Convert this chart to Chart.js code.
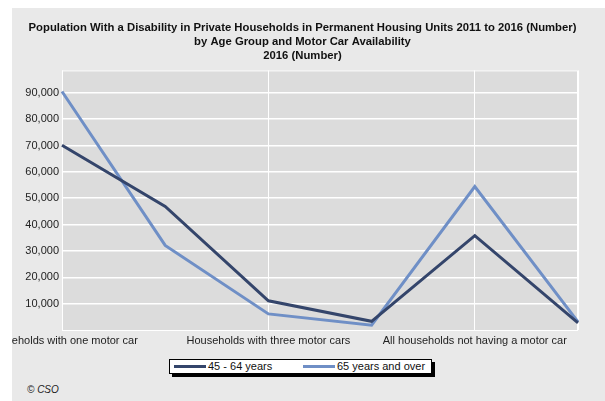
<!DOCTYPE html>
<html>
<head>
<meta charset="utf-8">
<script src="https://cdn.jsdelivr.net/npm/chart.js@4.4.0/dist/chart.umd.min.js"></script>
<style>
    body { margin: 0; background: #ffffff; font-family: "Liberation Sans", Arial, sans-serif; }
    #panel { position: absolute; left: 12px; top: 8px; width: 593px; height: 393px; background: #e9e9e9; }
    #chart-wrap { position: absolute; left: 0; top: 8px; width: 605px; height: 345px; }
    #edge { position: absolute; left: 0; top: 0; width: 12px; height: 401px; background: #ffffff; }
    #legend {
        position: absolute; left: 169px; top: 359px; width: 261px; height: 13px;
        background: #ffffff; border: 1px solid #000000; box-shadow: 3px 3px 0 #000000;
        font-size: 11px; color: #111111; line-height: 13px; white-space: nowrap;
    }
    .legend-item { position: absolute; top: 0; }
    .legend-line { display: inline-block; width: 32px; height: 3px; vertical-align: middle; margin-right: 2px; position: relative; top: -1px; }
    #credit { position: absolute; left: 27px; top: 384px; font-size: 10px; font-style: italic; color: #222222; }
</style>
</head>
<body>
<div id="panel"></div>
<div id="chart-wrap"><canvas id="carChart" width="605" height="345"></canvas></div>
<div id="edge"></div>
<div id="legend"></div>
<div id="credit">© CSO</div>

<script>
// Chart data
const categories = [
    'Households with one motor car',
    'Households with two motor cars',
    'Households with three motor cars',
    'Households with four or more motor cars',
    'All households not having a motor car',
    'Not stated'
];
const seriesNames = ['45 - 64 years', '65 years and over'];
const age45to64 = [70100, 46900, 11100, 3300, 35800, 2700];
const age65plus = [90500, 32100, 6100, 1800, 54400, 3100];
const yTicks = [10000, 20000, 30000, 40000, 50000, 60000, 70000, 80000, 90000];
const seriesColors = ['#34456b', '#6f8fc6'];

const titleLines = [
    'Population With a Disability in Private Households in Permanent Housing Units 2011 to 2016 (Number)',
    'by Age Group and Motor Car Availability',
    '2016 (Number)'
];

// Grey plot area with white edge
const plotBackground = {
    id: 'plotBackground',
    beforeDraw(chart) {
        const { ctx, chartArea: a } = chart;
        ctx.save();
        ctx.fillStyle = '#dcdcdc';
        ctx.fillRect(a.left, a.top, a.right - a.left, a.bottom - a.top);
        ctx.strokeStyle = '#ffffff';
        ctx.lineWidth = 1;
        ctx.strokeRect(a.left + 0.5, a.top + 0.5, a.right - a.left - 1, a.bottom - a.top);
        ctx.restore();
    }
};

const labelledIdx = [0, 2, 4];

const ctx = document.getElementById('carChart').getContext('2d');
const carChart = new Chart(ctx, {
    type: 'line',
    data: {
        labels: categories,
        datasets: [
            {
                label: seriesNames[0],
                data: age45to64,
                borderColor: seriesColors[0],
                borderWidth: 3,
                pointRadius: 0,
                tension: 0,
                fill: false
            },
            {
                label: seriesNames[1],
                data: age65plus,
                borderColor: seriesColors[1],
                borderWidth: 3,
                pointRadius: 0,
                tension: 0,
                fill: false
            }
        ]
    },
    options: {
        responsive: false,
        animation: false,
        layout: { padding: { top: 0, left: 0, right: 0, bottom: 5 } },
        plugins: {
            legend: { display: false },
            tooltip: { enabled: false },
            title: {
                display: true,
                text: titleLines,
                color: '#111111',
                font: { family: '"Liberation Sans", Arial, sans-serif', size: 11.3, weight: 'bold', lineHeight: 1.25 },
                padding: { top: 13, bottom: 7 }
            }
        },
        scales: {
            x: {
                offset: false,
                border: { display: false },
                grid: {
                    drawTicks: false,
                    lineWidth: 1,
                    color: (c) => (labelledIdx.includes(c.index) || c.index === categories.length - 1) ? '#ffffff' : 'rgba(0,0,0,0)'
                },
                ticks: {
                    autoSkip: false,
                    maxRotation: 0,
                    padding: 4,
                    color: '#222222',
                    font: { family: '"Liberation Sans", Arial, sans-serif', size: 11 },
                    callback: function (value, index) {
                        return labelledIdx.includes(index) ? this.getLabelForValue(value) : '';
                    }
                },
                afterFit: (scale) => {
                    scale.height = 18;
                    scale.paddingLeft = 0;
                    scale.paddingRight = 27;
                }
            },
            y: {
                min: 0,
                max: 98500,
                border: { display: false },
                grid: { drawTicks: false, color: '#ffffff', lineWidth: 1.5 },
                ticks: {
                    stepSize: 10000,
                    padding: 3,
                    color: '#222222',
                    font: { family: '"Liberation Sans", Arial, sans-serif', size: 11 },
                    callback: (v) => v.toLocaleString('en-US')
                },
                afterBuildTicks: (scale) => {
                    scale.ticks = yTicks.map(v => ({ value: v }));
                },
                afterFit: (scale) => {
                    scale.width = 62;
                }
            }
        }
    },
    plugins: [plotBackground]
});

// HTML legend with the framed box
const legend = document.getElementById('legend');
const legendPos = [[4, 39], [133, 168]];
seriesNames.forEach((name, i) => {
    const item = document.createElement('span');
    item.className = 'legend-item';
    item.style.left = legendPos[i][0] + 'px';
    item.innerHTML = `<span class="legend-line" style="background:${seriesColors[i]}"></span>${name}`;
    legend.appendChild(item);
});
</script>
</body>
</html>
